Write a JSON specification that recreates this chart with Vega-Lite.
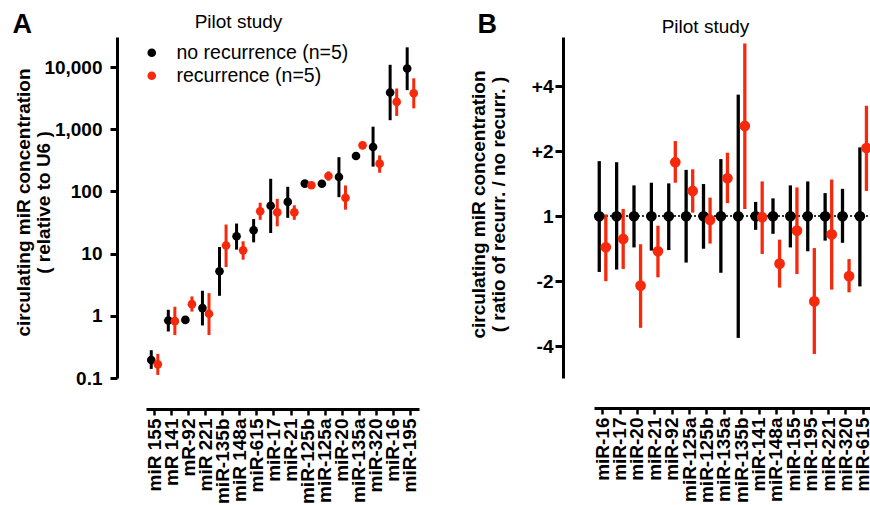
{
  "$schema": "https://vega.github.io/schema/vega-lite/v6.json",
  "background": "white",
  "padding": {"left": 12, "top": 10, "right": 0, "bottom": 0},
  "spacing": 49,
  "config": {"view": {"stroke": null}, "font": "Liberation Sans"},
  "resolve": {"scale": {"color": "independent", "stroke": "independent"}, "legend": {"color": "independent", "stroke": "independent"}},
  "datasets": {
    "a": [
      {"mir": "miR 155", "group": "no recurrence (n=5)", "v": 0.195, "lo": 0.14, "hi": 0.28},
      {"mir": "miR 155", "group": "recurrence (n=5)", "v": 0.166, "lo": 0.112, "hi": 0.244},
      {"mir": "mR 141", "group": "no recurrence (n=5)", "v": 0.84, "lo": 0.56, "hi": 1.25},
      {"mir": "mR 141", "group": "recurrence (n=5)", "v": 0.82, "lo": 0.49, "hi": 1.4},
      {"mir": "mR-92", "group": "no recurrence (n=5)", "v": 0.86, "lo": 0.79, "hi": 0.94},
      {"mir": "mR-92", "group": "recurrence (n=5)", "v": 1.54, "lo": 1.17, "hi": 2.05},
      {"mir": "miR 221", "group": "no recurrence (n=5)", "v": 1.33, "lo": 0.7, "hi": 2.53},
      {"mir": "miR 221", "group": "recurrence (n=5)", "v": 1.08, "lo": 0.49, "hi": 2.32},
      {"mir": "miR-135b", "group": "no recurrence (n=5)", "v": 5.2, "lo": 2.1, "hi": 12.8},
      {"mir": "miR-135b", "group": "recurrence (n=5)", "v": 13.5, "lo": 6.1, "hi": 29.4},
      {"mir": "miR 148a", "group": "no recurrence (n=5)", "v": 19, "lo": 11.6, "hi": 30.5},
      {"mir": "miR 148a", "group": "recurrence (n=5)", "v": 11.3, "lo": 8.0, "hi": 15.8},
      {"mir": "miR-615", "group": "no recurrence (n=5)", "v": 23.8, "lo": 15.2, "hi": 36},
      {"mir": "miR-615", "group": "recurrence (n=5)", "v": 48, "lo": 35, "hi": 66},
      {"mir": "miR-17", "group": "no recurrence (n=5)", "v": 59, "lo": 21.5, "hi": 160},
      {"mir": "miR-17", "group": "recurrence (n=5)", "v": 46, "lo": 27.5, "hi": 76},
      {"mir": "miR-21", "group": "no recurrence (n=5)", "v": 68, "lo": 37.7, "hi": 119},
      {"mir": "miR-21", "group": "recurrence (n=5)", "v": 46, "lo": 35, "hi": 60},
      {"mir": "miR-125b", "group": "no recurrence (n=5)", "v": 134, "lo": 126, "hi": 142},
      {"mir": "miR-125b", "group": "recurrence (n=5)", "v": 126, "lo": 119, "hi": 133},
      {"mir": "miR-125a", "group": "no recurrence (n=5)", "v": 133, "lo": 125, "hi": 141},
      {"mir": "miR-125a", "group": "recurrence (n=5)", "v": 177, "lo": 150, "hi": 210},
      {"mir": "miR-20", "group": "no recurrence (n=5)", "v": 171, "lo": 81, "hi": 356},
      {"mir": "miR-20", "group": "recurrence (n=5)", "v": 79, "lo": 51, "hi": 125},
      {"mir": "miR-135a", "group": "no recurrence (n=5)", "v": 372, "lo": 350, "hi": 395},
      {"mir": "miR-135a", "group": "recurrence (n=5)", "v": 552, "lo": 520, "hi": 585},
      {"mir": "miR-320", "group": "no recurrence (n=5)", "v": 519, "lo": 251, "hi": 1100},
      {"mir": "miR-320", "group": "recurrence (n=5)", "v": 280, "lo": 200, "hi": 380},
      {"mir": "miR-16", "group": "no recurrence (n=5)", "v": 3900, "lo": 1400, "hi": 10900},
      {"mir": "miR-16", "group": "recurrence (n=5)", "v": 2760, "lo": 1640, "hi": 4530},
      {"mir": "miR-195", "group": "no recurrence (n=5)", "v": 9500, "lo": 4270, "hi": 20800},
      {"mir": "miR-195", "group": "recurrence (n=5)", "v": 3800, "lo": 2170, "hi": 6600}
    ],
    "b": [
      {"mir": "miR-16", "group": "no recurrence (n=5)", "v": 1, "lo": 0.552, "hi": 1.8},
      {"mir": "miR-16", "group": "recurrence (n=5)", "v": 0.718, "lo": 0.5, "hi": 1.02},
      {"mir": "miR-17", "group": "no recurrence (n=5)", "v": 1, "lo": 0.566, "hi": 1.78},
      {"mir": "miR-17", "group": "recurrence (n=5)", "v": 0.785, "lo": 0.57, "hi": 1.08},
      {"mir": "miR-20", "group": "no recurrence (n=5)", "v": 1, "lo": 0.717, "hi": 1.39},
      {"mir": "miR-20", "group": "recurrence (n=5)", "v": 0.477, "lo": 0.304, "hi": 0.742},
      {"mir": "miR-21", "group": "no recurrence (n=5)", "v": 1, "lo": 0.693, "hi": 1.43},
      {"mir": "miR-21", "group": "recurrence (n=5)", "v": 0.688, "lo": 0.521, "hi": 0.904},
      {"mir": "miR-92", "group": "no recurrence (n=5)", "v": 1, "lo": 0.697, "hi": 1.42},
      {"mir": "miR-92", "group": "recurrence (n=5)", "v": 1.78, "lo": 1.43, "hi": 2.23},
      {"mir": "miR-125a", "group": "no recurrence (n=5)", "v": 1, "lo": 0.61, "hi": 1.64},
      {"mir": "miR-125a", "group": "recurrence (n=5)", "v": 1.31, "lo": 1.04, "hi": 1.65},
      {"mir": "miR-125b", "group": "no recurrence (n=5)", "v": 1, "lo": 0.707, "hi": 1.41},
      {"mir": "miR-125b", "group": "recurrence (n=5)", "v": 0.961, "lo": 0.747, "hi": 1.22},
      {"mir": "miR-135a", "group": "no recurrence (n=5)", "v": 1, "lo": 0.547, "hi": 1.84},
      {"mir": "miR-135a", "group": "recurrence (n=5)", "v": 1.5, "lo": 1.15, "hi": 1.97},
      {"mir": "miR-135b", "group": "no recurrence (n=5)", "v": 1, "lo": 0.273, "hi": 3.66},
      {"mir": "miR-135b", "group": "recurrence (n=5)", "v": 2.62, "lo": 1.08, "hi": 6.32},
      {"mir": "miR-141", "group": "no recurrence (n=5)", "v": 1, "lo": 0.865, "hi": 1.165},
      {"mir": "miR-141", "group": "recurrence (n=5)", "v": 0.99, "lo": 0.669, "hi": 1.45},
      {"mir": "miR-148a", "group": "no recurrence (n=5)", "v": 1, "lo": 0.829, "hi": 1.21},
      {"mir": "miR-148a", "group": "recurrence (n=5)", "v": 0.603, "lo": 0.467, "hi": 0.779},
      {"mir": "miR-155", "group": "no recurrence (n=5)", "v": 1, "lo": 0.717, "hi": 1.39},
      {"mir": "miR-155", "group": "recurrence (n=5)", "v": 0.858, "lo": 0.54, "hi": 1.36},
      {"mir": "miR-195", "group": "no recurrence (n=5)", "v": 1, "lo": 0.688, "hi": 1.45},
      {"mir": "miR-195", "group": "recurrence (n=5)", "v": 0.403, "lo": 0.23, "hi": 0.712},
      {"mir": "miR-221", "group": "no recurrence (n=5)", "v": 1, "lo": 0.771, "hi": 1.28},
      {"mir": "miR-221", "group": "recurrence (n=5)", "v": 0.824, "lo": 0.457, "hi": 1.48},
      {"mir": "miR-320", "group": "no recurrence (n=5)", "v": 1, "lo": 0.753, "hi": 1.34},
      {"mir": "miR-320", "group": "recurrence (n=5)", "v": 0.528, "lo": 0.444, "hi": 0.633},
      {"mir": "miR-615", "group": "no recurrence (n=5)", "v": 1, "lo": 0.473, "hi": 2.085},
      {"mir": "miR-615", "group": "recurrence (n=5)", "v": 2.07, "lo": 1.31, "hi": 3.25}
    ]
  },
  "hconcat": [
    {
      "width": 273,
      "height": 341,
      "data": {"name": "a"},
      "resolve": {"axis": {"x": "independent", "y": "independent"}},
      "layer": [
        {
          "mark": {"type": "rule", "strokeWidth": 3},
          "encoding": {
            "x": {
              "field": "mir", "type": "nominal", "sort": null,
              "scale": {"type": "band", "paddingInner": 0, "paddingOuter": -0.178, "align": 0.226},
              "axis": {"orient": "bottom", "title": null, "offset": 31, "labelAngle": -90, "labelAlign": "right", "labelBaseline": "middle", "labelFont": "Liberation Sans", "labelFontSize": 19, "labelFontWeight": "bold", "labelColor": "#000", "labelPadding": 3, "labelOverlap": false, "labelLimit": 300, "tickSize": 6, "tickWidth": 2.5, "tickColor": "#000", "domainWidth": 3, "domainColor": "#000", "grid": false}
            },
            "xOffset": {"field": "group", "type": "nominal", "sort": ["no recurrence (n=5)", "recurrence (n=5)"], "scale": {"paddingOuter": 0.3, "paddingInner": 0}},
            "y": {
              "field": "lo", "type": "quantitative",
              "scale": {"type": "log", "domain": [0.1, 30500], "nice": false},
              "axis": {"orient": "left", "values": [0.1, 1, 10, 100, 1000, 10000], "format": ",", "title": ["circulating miR concentration", "( relative to U6 )"], "offset": 29, "grid": false, "domainWidth": 3, "domainColor": "#000", "tickWidth": 3, "tickSize": 7, "tickColor": "#000", "labelFont": "Liberation Sans", "labelFontSize": 19, "labelFontWeight": "bold", "labelColor": "#000", "labelPadding": 8, "titleFont": "Liberation Sans", "titleFontSize": 19, "titleFontWeight": "bold", "titleColor": "#000", "titleLineHeight": 20.5, "titleX": -84, "titleY": 165}
            },
            "y2": {"field": "hi"},
            "stroke": {"field": "group", "type": "nominal", "scale": {"domain": ["no recurrence (n=5)", "recurrence (n=5)"], "range": ["#000000", "#f7290c"]},
              "legend": {"title": null, "orient": "none", "legendX": -4, "legendY": 6, "padding": 0, "symbolType": "circle", "symbolSize": 75, "symbolStrokeWidth": 0, "labelFont": "Liberation Sans", "labelFontSize": 19.5, "labelColor": "#000", "labelOffset": 15, "labelLimit": 400, "rowPadding": 2}}
          }
        },
        {
          "mark": {"type": "point", "filled": true, "size": 75, "opacity": 1},
          "encoding": {
            "x": {
              "field": "mir", "type": "nominal", "sort": null,
              "axis": {"orient": "top", "domain": false, "ticks": false, "labels": false, "grid": false, "title": "Pilot study", "titleFont": "Liberation Sans", "titleFontSize": 19, "titleFontWeight": "normal", "titleColor": "#000", "titleAlign": "center", "titleBaseline": "alphabetic", "titleAngle": 0, "titleX": 92, "titleY": -10}
            },
            "xOffset": {"field": "group", "type": "nominal", "sort": ["no recurrence (n=5)", "recurrence (n=5)"]},
            "y": {
              "field": "v", "type": "quantitative",
              "axis": {"orient": "right", "domain": false, "ticks": false, "labels": false, "grid": false, "title": "A", "titleFont": "Liberation Sans", "titleFontSize": 27, "titleFontWeight": "bold", "titleColor": "#000", "titleAlign": "left", "titleBaseline": "alphabetic", "titleAngle": 0, "titleX": -407, "titleY": -5}
            },
            "color": {"field": "group", "type": "nominal", "scale": {"domain": ["no recurrence (n=5)", "recurrence (n=5)"], "range": ["#000000", "#f7290c"]},
              "legend": {"title": null, "orient": "none", "legendX": -4, "legendY": 6, "padding": 0, "symbolType": "circle", "symbolSize": 75, "symbolStrokeWidth": 0, "labelFont": "Liberation Sans", "labelFontSize": 19.5, "labelColor": "#000", "labelOffset": 15, "labelLimit": 400, "rowPadding": 2}}
          }
        }
      ]
    },
    {
      "width": 278,
      "height": 341,
      "data": {"name": "b"},
      "resolve": {"axis": {"x": "independent", "y": "independent"}},
      "layer": [
        {
          "mark": {"type": "rule", "strokeWidth": 1, "strokeDash": [2, 2], "color": "#333"},
          "encoding": {
            "y": {
              "datum": 1, "type": "quantitative",
              "scale": {"type": "log", "base": 2, "domain": [0.178, 6.77], "nice": false},
              "axis": {"orient": "left", "values": [0.25, 0.5, 1, 2, 4], "labelExpr": "datum.value > 1.01 ? '+' + format(datum.value, 'd') : (datum.value > 0.99 ? '1' : '-' + format(1 / datum.value, 'd'))", "title": ["circulating miR concentration", "( ratio  of recurr.  / no recurr. )"], "offset": 31, "grid": false, "domainWidth": 3, "domainColor": "#000", "tickWidth": 3, "tickSize": 8, "tickColor": "#000", "labelFont": "Liberation Sans", "labelFontSize": 19, "labelFontWeight": "bold", "labelColor": "#000", "labelPadding": 2, "titleFont": "Liberation Sans", "titleFontSize": 19, "titleFontWeight": "bold", "titleColor": "#000", "titleLineHeight": 20.5, "titleX": -75, "titleY": 167}
            }
          }
        },
        {
          "mark": {"type": "rule", "strokeWidth": 3.3},
          "encoding": {
            "x": {
              "field": "mir", "type": "nominal", "sort": null,
              "scale": {"type": "band", "paddingInner": 0, "paddingOuter": -0.17},
              "axis": {"orient": "bottom", "title": null, "offset": 30, "labelAngle": -90, "labelAlign": "right", "labelBaseline": "middle", "labelFont": "Liberation Sans", "labelFontSize": 19, "labelFontWeight": "bold", "labelColor": "#000", "labelPadding": 3, "labelOverlap": false, "labelLimit": 300, "tickSize": 6, "tickWidth": 2.5, "tickColor": "#000", "domainWidth": 3, "domainColor": "#000", "grid": false}
            },
            "xOffset": {"field": "group", "type": "nominal", "sort": ["no recurrence (n=5)", "recurrence (n=5)"], "scale": {"paddingOuter": 0.96, "paddingInner": 0}},
            "y": {"field": "lo", "type": "quantitative", "axis": null},
            "y2": {"field": "hi"},
            "stroke": {"field": "group", "type": "nominal", "scale": {"domain": ["no recurrence (n=5)", "recurrence (n=5)"], "range": ["#000000", "#f7290c"]}, "legend": null}
          }
        },
        {
          "mark": {"type": "point", "filled": true, "size": 115, "opacity": 1},
          "encoding": {
            "x": {
              "field": "mir", "type": "nominal", "sort": null,
              "axis": {"orient": "top", "domain": false, "ticks": false, "labels": false, "grid": false, "title": "Pilot study", "titleFont": "Liberation Sans", "titleFontSize": 19, "titleFontWeight": "normal", "titleColor": "#000", "titleAlign": "center", "titleBaseline": "alphabetic", "titleAngle": 0, "titleX": 111, "titleY": -5}
            },
            "xOffset": {"field": "group", "type": "nominal", "sort": ["no recurrence (n=5)", "recurrence (n=5)"]},
            "y": {
              "field": "v", "type": "quantitative",
              "axis": {"orient": "right", "domain": false, "ticks": false, "labels": false, "grid": false, "title": "B", "titleFont": "Liberation Sans", "titleFontSize": 27, "titleFontWeight": "bold", "titleColor": "#000", "titleAlign": "left", "titleBaseline": "alphabetic", "titleAngle": 0, "titleX": -395, "titleY": -5}
            },
            "color": {"field": "group", "type": "nominal", "scale": {"domain": ["no recurrence (n=5)", "recurrence (n=5)"], "range": ["#000000", "#f7290c"]}, "legend": null}
          }
        }
      ]
    }
  ]
}
